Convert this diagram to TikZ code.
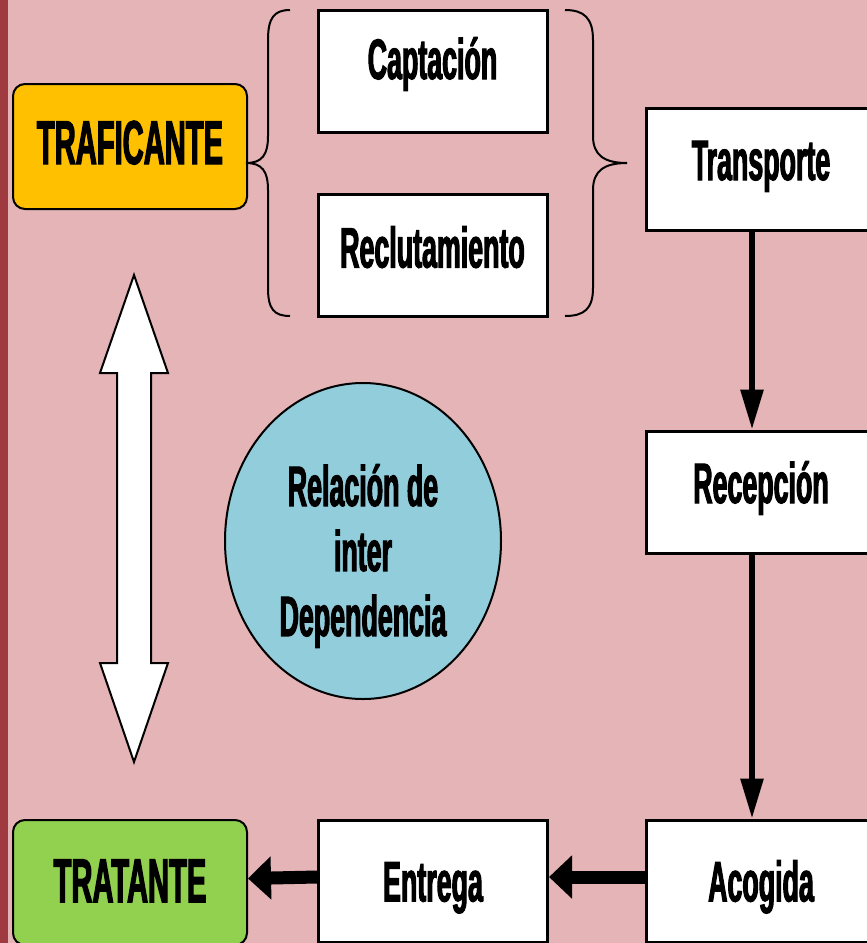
\documentclass[tikz,border=0pt]{standalone}
\usepackage{fontspec}
\newfontfamily\narrowfont[FakeStretch=0.47,FakeBold=1.8]{Liberation Sans Bold}
\usetikzlibrary{positioning, arrows.meta, shapes.geometric}

\definecolor{fondo}{HTML}{E4B4B6}
\definecolor{franja}{HTML}{9E3A40}
\definecolor{amarillo}{HTML}{FFC000}
\definecolor{verde}{HTML}{92D050}
\definecolor{celeste}{HTML}{92CDDC}

\tikzset{
  paso/.style={draw=black, line width=1.5pt, fill=white, minimum width=114.5pt,
    minimum height=61pt, inner sep=0pt, font={\narrowfont\fontsize{28.5}{32}\selectfont},
    text height=22pt, text depth=11pt},
  actor/.style={draw=black, line width=1pt, rounded corners=6pt, minimum width=117pt,
    minimum height=62.5pt, inner sep=0pt, font={\narrowfont\fontsize{31}{34}\selectfont}},
  flecha/.style={line width=3pt, -{Triangle[length=20pt,width=11pt]}},
  flechagruesa/.style={line width=6.5pt, -{Triangle[length=11.5pt,width=21pt]}},
  llave/.style={line width=1pt}
}

\begin{document}
\begin{tikzpicture}[x=0.5pt,y=-0.5pt]
\useasboundingbox (0,0) rectangle (867,943);
\clip (0,0) rectangle (867,943);
\fill[fondo] (0,0) rectangle (867,943);
\fill[franja] (0,0) rectangle (8,943);

% actores
\node[actor, fill=amarillo, text height=22pt, text depth=4.5pt] (trafic) at (130,146.5) {TRAFICANTE};
\node[actor, fill=verde, text height=22pt, text depth=2.3pt] (tratan) at (130,882.5) {TRATANTE};

% pasos
\node[paso, text depth=14pt] (capta) at (432.5,71) {Captación};
\node[paso, text depth=10pt] (reclu) at (432.5,255.5) {Reclutamiento};
\node[paso] (transp) at (761,169) {Transporte};
\node[paso] (recep) at (761,492) {Recepción};
\node[paso, text height=20.4pt, text depth=0pt] (acog) at (761,881) {Acogida};
\node[paso, text height=20.4pt, text depth=0pt] (entr) at (433,881) {Entrega};

% relacion
\node[ellipse, draw=black, line width=1pt, fill=celeste, minimum width=138pt,
  minimum height=158pt, inner sep=0pt] (rel) at (363,541) {};
\node[align=center, font={\narrowfont\fontsize{28.5}{32.5}\selectfont}] (reltxt) at (363,556)
  {Relación de\\inter\\Dependencia};

% llaves
\draw[llave] (290,10) .. controls (274,10) and (268,18) .. (268,40) -- (268,136)
  .. controls (268,155) and (262,163) .. (246,163)
  .. controls (262,163) and (268,171) .. (268,190) -- (268,288)
  .. controls (268,309) and (274,316) .. (290,316);
\draw[llave] (565,10) .. controls (584,10) and (593,18) .. (593,40) -- (593,136)
  .. controls (593,155) and (604,163) .. (627,163)
  .. controls (604,163) and (593,171) .. (593,190) -- (593,288)
  .. controls (593,309) and (584,316) .. (565,316);

% flecha doble
\draw[line width=1pt, fill=white] (134,275) -- (168,373) -- (151,373) -- (151,663)
  -- (168,663) -- (134,762) -- (100,663) -- (117,663) -- (117,373) -- (100,373) -- cycle;

% flujo
\draw[flecha] ([xshift=-4.5pt]transp.south) -- ([xshift=-4.5pt]recep.north);
\draw[flecha] ([xshift=-4.5pt]recep.south) -- ([xshift=-4.5pt]acog.north);
\draw[flechagruesa] ([yshift=2pt]acog.west) -- ([yshift=2pt]entr.east);
\draw[flechagruesa] ([yshift=2pt]entr.west) -- ([yshift=2pt]tratan.east);
\end{tikzpicture}
\end{document}
